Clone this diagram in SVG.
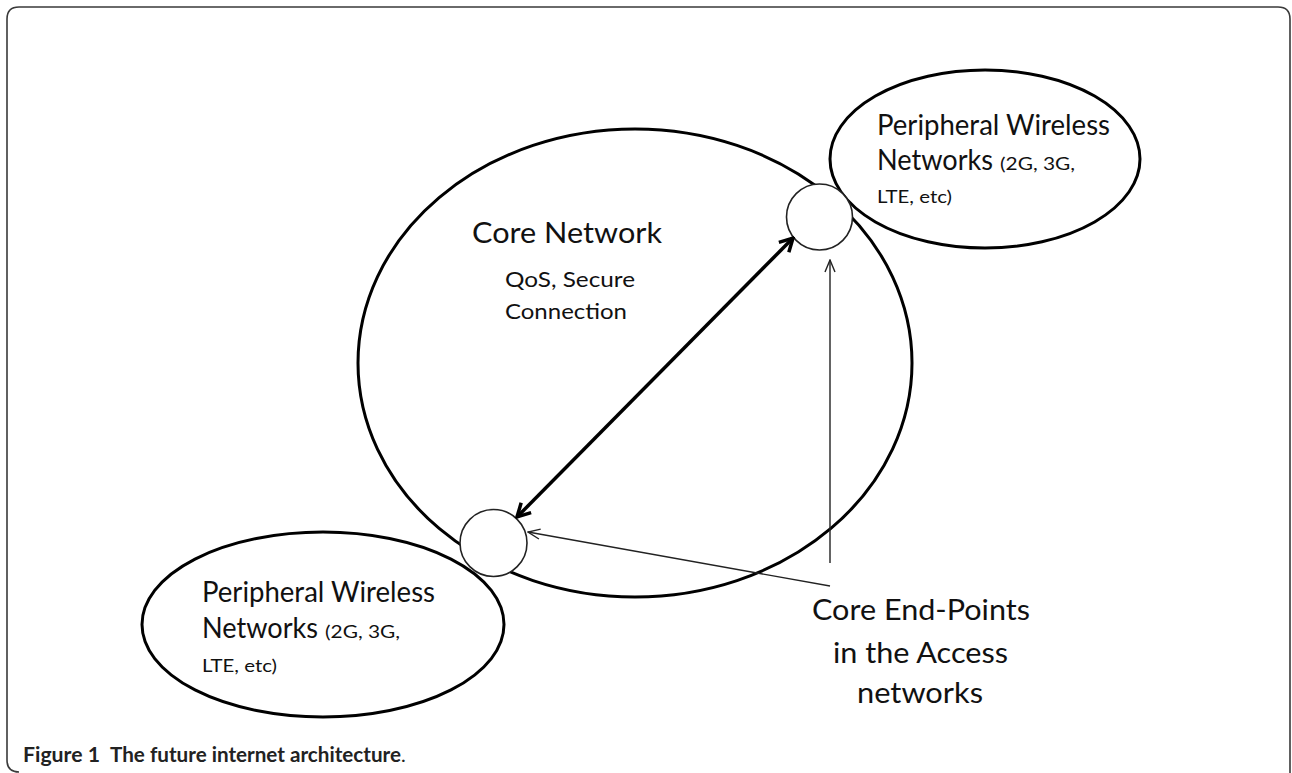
<svg xmlns="http://www.w3.org/2000/svg" width="1292" height="773" viewBox="0 0 1292 773">
<style>
.bg{fill:#ffffff}
.frame{fill:none;stroke:#3a3a3a;stroke-width:1.6}
.net{fill:none;stroke:#000;stroke-width:3}
.ep{fill:#fff;stroke:#222;stroke-width:1.6}
.t{font-family:Lato,"Liberation Sans",sans-serif;fill:#111}
.big{font-size:28px}
.mid{font-size:21px}
.sm{font-size:18px}
.cap{font-family:Lato,"Liberation Sans",sans-serif;font-size:20px;font-weight:bold;fill:#222}
.thick{fill:none;stroke:#000;stroke-width:3.5}
.thin{fill:none;stroke:#222;stroke-width:1.4}
</style>
<defs>
<marker id="headBold" viewBox="0 0 18 18" refX="16" refY="9" markerWidth="18" markerHeight="18" markerUnits="userSpaceOnUse" orient="auto-start-reverse">
<path d="M3,2 L16,9 L3,16" fill="none" stroke="#000" stroke-width="3.5" stroke-linejoin="miter"/>
</marker>
<marker id="headThin" viewBox="0 0 14 12" refX="13" refY="6" markerWidth="14" markerHeight="12" markerUnits="userSpaceOnUse" orient="auto">
<path d="M1,1 L13,6 L1,11" fill="none" stroke="#222" stroke-width="1.4"/>
</marker>
</defs>
<rect class="bg" x="0" y="0" width="1292" height="773"/>
<path class="frame" d="M19,772 Q7,772 7,760 L7,19 Q7,7 19,7 L1278,7 Q1290,7 1290,19 L1290,790"/>

<g id="core-network">
<ellipse class="net" cx="635" cy="363" rx="277" ry="234"/>
<text class="t big" x="472" y="243" textLength="190" lengthAdjust="spacingAndGlyphs">Core Network</text>
<text class="t mid" x="505" y="287" textLength="130" lengthAdjust="spacingAndGlyphs">QoS, Secure</text>
<text class="t mid" x="505" y="319" textLength="122" lengthAdjust="spacingAndGlyphs">Connection</text>
</g>

<g id="peripheral-top">
<ellipse class="net" cx="985" cy="159" rx="155" ry="89"/>
<text class="t big" x="877" y="135" textLength="233" lengthAdjust="spacingAndGlyphs">Peripheral Wireless</text>
<text class="t big" x="877" y="170" textLength="116" lengthAdjust="spacingAndGlyphs">Networks</text>
<text class="t sm" x="1000" y="170" textLength="75" lengthAdjust="spacingAndGlyphs">(2G, 3G,</text>
<text class="t sm" x="877" y="203" textLength="75" lengthAdjust="spacingAndGlyphs">LTE, etc)</text>
</g>

<g id="peripheral-bottom">
<ellipse class="net" cx="323" cy="624.5" rx="181" ry="92.5"/>
<text class="t big" x="202" y="602" textLength="233" lengthAdjust="spacingAndGlyphs">Peripheral Wireless</text>
<text class="t big" x="202" y="638" textLength="116" lengthAdjust="spacingAndGlyphs">Networks</text>
<text class="t sm" x="325" y="638" textLength="75" lengthAdjust="spacingAndGlyphs">(2G, 3G,</text>
<text class="t sm" x="202" y="672" textLength="75" lengthAdjust="spacingAndGlyphs">LTE, etc)</text>
</g>

<g id="endpoint-top">
<circle class="ep" cx="819.5" cy="217" r="33"/>
</g>
<g id="endpoint-bottom">
<circle class="ep" cx="493.5" cy="543" r="33.5"/>
</g>

<g id="core-endpoints-label">
<text class="t big" x="812" y="620" textLength="218" lengthAdjust="spacingAndGlyphs">Core End-Points</text>
<text class="t big" x="833" y="663" textLength="175" lengthAdjust="spacingAndGlyphs">in the Access</text>
<text class="t big" x="857" y="703" textLength="126" lengthAdjust="spacingAndGlyphs">networks</text>
</g>

<g id="connectors">
<line class="thick" x1="517" y1="517" x2="793" y2="238" marker-start="url(#headBold)" marker-end="url(#headBold)"/>
<line class="thin" x1="830" y1="586" x2="528" y2="532" marker-end="url(#headThin)"/>
<line class="thin" x1="830" y1="563" x2="830" y2="260" marker-end="url(#headThin)"/>
</g>

<g id="caption">
<text class="cap" x="23" y="762"><tspan textLength="77" lengthAdjust="spacingAndGlyphs">Figure 1</tspan><tspan x="110" textLength="291" lengthAdjust="spacingAndGlyphs">The future internet architecture</tspan><tspan font-weight="normal">.</tspan></text>
</g>
</svg>
